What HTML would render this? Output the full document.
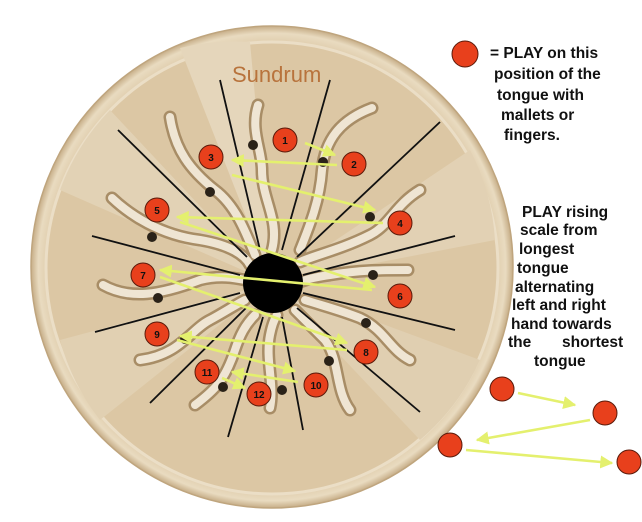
<!DOCTYPE html>
<html><head><meta charset="utf-8"><style>
html,body{margin:0;padding:0;background:#fff;}
svg{display:block}
text{font-family:"Liberation Sans",sans-serif;font-weight:bold;}
</style></head><body>
<svg width="642" height="522" viewBox="0 0 642 522" xmlns="http://www.w3.org/2000/svg">
<defs>
<marker id="ah" viewBox="0 0 10 10" refX="9" refY="5" markerWidth="5" markerHeight="5" orient="auto"><path d="M0,0 L10,5 L0,10 z" fill="#e4f06e"/></marker>
<radialGradient id="rim" cx="0.5" cy="0.5" r="0.5"><stop offset="0.9" stop-color="#d9c39f"/><stop offset="0.97" stop-color="#e9dbc0"/><stop offset="1" stop-color="#c6ad87"/></radialGradient>
</defs>
<circle cx="272" cy="267" r="241" fill="url(#rim)" stroke="#bfa57e" stroke-width="1.5"/>
<circle cx="272" cy="268" r="226" fill="#dcc7a4" stroke="#ebdec6" stroke-width="3"/>
<path d="M272,283 L180,48 A226,226 0 0 1 250,42 Z" fill="#e5d6bb"/>
<path d="M272,283 L60,190 A226,226 0 0 1 110,110 Z" fill="#e2d2b5"/>
<path d="M272,283 L470,150 A226,226 0 0 1 495,240 Z" fill="#e2d1b4"/>
<path d="M272,283 L480,360 A226,226 0 0 1 420,440 Z" fill="#e0cfb1"/>
<path d="M272,283 L100,420 A226,226 0 0 1 60,340 Z" fill="#e1d0b2"/>
<text x="232" y="82" font-family="Liberation Sans,sans-serif" font-size="22" fill="#b8733c" style="font-weight:normal">Sundrum</text>
<g fill="none" stroke-linecap="round">
<g stroke="#a88d66" stroke-width="13">
<path d="M258,105 C250,130 262,150 262,170 C262,200 280,220 272,250"/>
<path d="M372,108 C340,120 325,140 322,170 C320,200 310,225 300,250"/>
<path d="M170,117 C175,150 190,170 215,190 C235,205 245,230 255,255"/>
<path d="M112,198 C130,215 160,235 200,240 C230,245 245,255 250,265"/>
<path d="M420,190 C395,205 390,225 370,235 C340,250 315,255 300,262"/>
<path d="M103,285 C130,300 160,295 200,280 C220,275 235,278 245,280"/>
<path d="M408,270 C380,270 360,270 330,275 C315,277 305,280 300,282"/>
<path d="M410,360 C390,350 385,330 360,318 C340,310 320,305 305,300"/>
<path d="M140,360 C180,355 190,330 210,320 C225,312 235,305 245,300"/>
<path d="M350,410 C335,390 340,360 325,340 C310,325 300,315 295,310"/>
<path d="M270,408 C275,385 265,360 270,335 C272,325 275,318 277,315"/>
<path d="M195,405 C215,390 225,380 235,350 C240,335 245,325 255,315"/>
</g>
<g stroke="#efe5d3" stroke-width="8">
<path d="M258,105 C250,130 262,150 262,170 C262,200 280,220 272,250"/>
<path d="M372,108 C340,120 325,140 322,170 C320,200 310,225 300,250"/>
<path d="M170,117 C175,150 190,170 215,190 C235,205 245,230 255,255"/>
<path d="M112,198 C130,215 160,235 200,240 C230,245 245,255 250,265"/>
<path d="M420,190 C395,205 390,225 370,235 C340,250 315,255 300,262"/>
<path d="M103,285 C130,300 160,295 200,280 C220,275 235,278 245,280"/>
<path d="M408,270 C380,270 360,270 330,275 C315,277 305,280 300,282"/>
<path d="M410,360 C390,350 385,330 360,318 C340,310 320,305 305,300"/>
<path d="M140,360 C180,355 190,330 210,320 C225,312 235,305 245,300"/>
<path d="M350,410 C335,390 340,360 325,340 C310,325 300,315 295,310"/>
<path d="M270,408 C275,385 265,360 270,335 C272,325 275,318 277,315"/>
<path d="M195,405 C215,390 225,380 235,350 C240,335 245,325 255,315"/>
</g>
</g>
<g stroke="#111" stroke-width="1.8">
<line x1="220" y1="80" x2="260" y2="250"/>
<line x1="330" y1="80" x2="282" y2="250"/>
<line x1="440" y1="122" x2="297" y2="257"/>
<line x1="455" y1="236" x2="303" y2="275"/>
<line x1="303" y1="293" x2="455" y2="330"/>
<line x1="297" y1="308" x2="420" y2="412"/>
<line x1="282" y1="317" x2="303" y2="430"/>
<line x1="263" y1="317" x2="228" y2="437"/>
<line x1="247" y1="307" x2="150" y2="403"/>
<line x1="240" y1="293" x2="95" y2="332"/>
<line x1="240" y1="275" x2="92" y2="236"/>
<line x1="247" y1="257" x2="118" y2="130"/>
</g>
<g fill="#2a2218">
<circle cx="253" cy="145" r="5"/><circle cx="323" cy="162" r="5"/><circle cx="210" cy="192" r="5"/><circle cx="370" cy="217" r="5"/><circle cx="152" cy="237" r="5"/><circle cx="373" cy="275" r="5"/><circle cx="158" cy="298" r="5"/><circle cx="366" cy="323" r="5"/><circle cx="185" cy="339" r="5"/><circle cx="329" cy="361" r="5"/><circle cx="223" cy="387" r="5"/><circle cx="282" cy="390" r="5"/>
</g>
<circle cx="273" cy="283" r="30" fill="#000"/>
<g stroke="#e4f06e" stroke-width="2.6" marker-end="url(#ah)">
<line x1="305" y1="143" x2="335" y2="155"/>
<line x1="337" y1="165" x2="232" y2="160"/>
<line x1="232" y1="175" x2="375" y2="210"/>
<line x1="383" y1="223" x2="177" y2="217"/>
<line x1="180" y1="222" x2="375" y2="287"/>
<line x1="372" y1="290" x2="160" y2="270"/>
<line x1="160" y1="277" x2="347" y2="343"/>
<line x1="347" y1="350" x2="180" y2="336"/>
<line x1="177" y1="340" x2="295" y2="371"/>
<line x1="298" y1="382" x2="232" y2="372"/>
<line x1="222" y1="378" x2="245" y2="388"/>
<line x1="518" y1="393" x2="575" y2="405"/>
<line x1="590" y1="420" x2="477" y2="440"/>
<line x1="466" y1="450" x2="612" y2="463"/>
</g>
<g fill="#e8401c" stroke="#5a1a0a" stroke-width="1">
<circle cx="285" cy="140" r="12"/><circle cx="354" cy="164" r="12"/><circle cx="211" cy="157" r="12"/><circle cx="400" cy="223" r="12"/><circle cx="157" cy="210" r="12"/><circle cx="400" cy="296" r="12"/><circle cx="143" cy="275" r="12"/><circle cx="366" cy="352" r="12"/><circle cx="157" cy="334" r="12"/><circle cx="316" cy="385" r="12"/><circle cx="207" cy="372" r="12"/><circle cx="259" cy="394" r="12"/>
<circle cx="465" cy="54" r="13"/>
<circle cx="502" cy="389" r="12"/><circle cx="605" cy="413" r="12"/><circle cx="450" cy="445" r="12"/><circle cx="629" cy="462" r="12"/>
</g>
<g font-size="10" fill="#111" text-anchor="middle">
<text x="285" y="144">1</text><text x="354" y="168">2</text><text x="211" y="161">3</text><text x="400" y="227">4</text><text x="157" y="214">5</text><text x="400" y="300">6</text><text x="143" y="279">7</text><text x="366" y="356">8</text><text x="157" y="338">9</text><text x="316" y="389">10</text><text x="207" y="376">11</text><text x="259" y="398">12</text>
</g>
<g font-size="15.5" fill="#111">
<text x="490" y="58">= PLAY on this</text>
<text x="494" y="79">position of the</text>
<text x="497" y="100">tongue with</text>
<text x="501" y="120">mallets or</text>
<text x="504" y="140">fingers.</text>
<text x="522" y="217">PLAY rising</text>
<text x="520" y="235">scale from</text>
<text x="519" y="254">longest</text>
<text x="517" y="273">tongue</text>
<text x="515" y="292">alternating</text>
<text x="512" y="310">left and right</text>
<text x="511" y="329">hand towards</text>
<text x="508" y="347">the</text>
<text x="562" y="347">shortest</text>
<text x="534" y="366">tongue</text>
</g>
</svg>
</body></html>
